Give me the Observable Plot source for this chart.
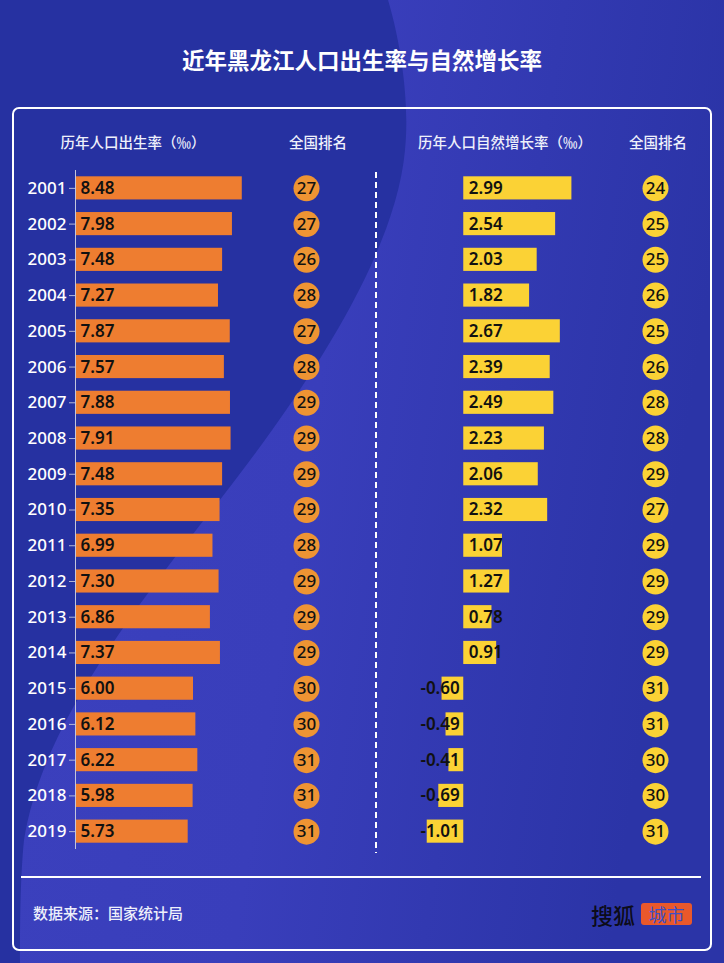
<!DOCTYPE html>
<html>
<head>
<meta charset="utf-8">
<script src="https://cdn.jsdelivr.net/npm/d3@7"></script>
<script src="https://cdn.jsdelivr.net/npm/@observablehq/plot@0.6"></script>
<style>
  html, body { margin: 0; padding: 0; }
  body { width: 724px; height: 963px; position: relative; overflow: hidden; font-family: "Noto Sans CJK SC", "Noto Sans", sans-serif; }
  .abs { position: absolute; }
  #bg { left: 0; top: 0; }
  #title { left: 0; width: 724px; top: 43px; text-align: center; color: #fff; font-size: 22.5px; font-weight: 700; line-height: 32px; }
  #panel { left: 12px; top: 107px; width: 696px; height: 840px; border: 2px solid #fff; border-radius: 7px; }
  #sep { left: 21px; top: 876px; width: 680px; height: 2px; background: #fff; }
  .hdr { color: #eef0fb; font-size: 14.5px; font-weight: 500; line-height: 20px; text-align: center; top: 132px; white-space: nowrap; }
  #src { left: 33px; top: 902px; color: #eef0fb; font-size: 15px; font-weight: 500; line-height: 22px; }
  #logo1 { left: 591px; top: 899px; color: #0c0c1a; font-size: 22px; font-weight: 500; line-height: 30px; }
  #logo2 { left: 641px; top: 903px; width: 51px; height: 22px; background: #e9582b; border-radius: 3px; color: #3f4fc4; font-size: 18px; font-weight: 400; line-height: 22px; text-align: center; }
  .plot { position: absolute; }
  .plot svg { overflow: visible; background: transparent; }
</style>
</head>
<body>
<svg id="bg" class="abs" width="724" height="963">
  <defs>
    <linearGradient id="lg" x1="0" y1="0" x2="1" y2="0.2">
      <stop offset="0" stop-color="#3c41be"/>
      <stop offset="0.5" stop-color="#393ebb"/>
      <stop offset="1" stop-color="#2b34a7"/>
    </linearGradient>
  </defs>
  <rect width="724" height="963" fill="url(#lg)"/>
  <path d="M0,0 L388,0 C400,40 410,100 405,150 C395,260 300,400 200,525 C110,640 40,740 24,840 C20,880 20,930 20,963 L0,963 Z" fill="#2631a1"/>
  <line x1="376" y1="172" x2="376" y2="853" stroke="#fff" stroke-width="2" stroke-dasharray="6,4"/>
</svg>
<div id="title" class="abs">近年黑龙江人口出生率与自然增长率</div>
<div id="panel" class="abs"></div>
<div id="sep" class="abs"></div>
<div class="hdr abs" style="left:30px;width:206px;">历年人口出生率（‰）</div>
<div class="hdr abs" style="left:268px;width:100px;">全国排名</div>
<div class="hdr abs" style="left:395px;width:220px;">历年人口自然增长率（‰）</div>
<div class="hdr abs" style="left:608px;width:100px;">全国排名</div>
<div id="src" class="abs">数据来源：国家统计局</div>
<div id="logo1" class="abs">搜狐</div>
<div id="logo2" class="abs">城市</div>

<div id="p1" class="plot" style="left:0px;top:170px;"></div>
<div id="p2" class="plot" style="left:286px;top:170px;"></div>
<div id="p3" class="plot" style="left:409px;top:170px;"></div>
<div id="p4" class="plot" style="left:635px;top:170px;"></div>

<script>
const years = ["2001","2002","2003","2004","2005","2006","2007","2008","2009","2010","2011","2012","2013","2014","2015","2016","2017","2018","2019"];
const birthRate = [8.48,7.98,7.48,7.27,7.87,7.57,7.88,7.91,7.48,7.35,6.99,7.30,6.86,7.37,6.00,6.12,6.22,5.98,5.73];
const birthRank = [27,27,26,28,27,28,29,29,29,29,28,29,29,29,30,30,31,31,31];
const growthRate = [2.99,2.54,2.03,1.82,2.67,2.39,2.49,2.23,2.06,2.32,1.07,1.27,0.78,0.91,-0.60,-0.49,-0.41,-0.69,-1.01];
const growthRank = [24,25,25,26,25,26,28,28,29,27,29,29,29,29,31,31,30,30,31];

const rows = years.map((y, i) => ({
  year: y, birth: birthRate[i], bRank: birthRank[i], growth: growthRate[i], gRank: growthRank[i]
}));

const H = 679;
const font = '"Noto Sans", "Noto Sans CJK SC", sans-serif';
const yScale = {type: "band", domain: years, padding: 0, round: false, axis: null};
const inset = 6.3;
const fmt = d => d.toFixed(2);

// Left: birth rate bars
const p1 = Plot.plot({
  width: 260, height: H, marginLeft: 75, marginRight: 8, marginTop: 0, marginBottom: 0,
  style: {fontFamily: font, background: "transparent", overflow: "visible"},
  x: {domain: [0, 9], axis: null},
  y: yScale,
  marks: [
    Plot.barX(rows, {x: "birth", y: "year", fill: "#ee7d30", insetTop: inset, insetBottom: inset}),
    Plot.ruleX([0], {stroke: "#c4c6dc", strokeWidth: 1}),
    Plot.axisY({tickSize: 6, tickPadding: 3, fontSize: 17, fontWeight: 500, fill: "#ffffff", stroke: "#b4b8d6", label: null}),
    Plot.text(rows, {x: 0, y: "year", text: d => fmt(d.birth), dx: 5, textAnchor: "start", fill: "#111", fontSize: 17, fontWeight: 600})
  ]
});
document.getElementById("p1").appendChild(p1);

// Left rank circles
const p2 = Plot.plot({
  width: 40, height: H, margin: 0,
  style: {fontFamily: font, background: "transparent", overflow: "visible"},
  y: yScale,
  marks: [
    Plot.dot(rows, {y: "year", r: 13, fill: "#ee9433", frameAnchor: "middle"}),
    Plot.text(rows, {y: "year", text: "bRank", frameAnchor: "middle", fill: "#111", fontSize: 17, fontWeight: 500})
  ]
});
document.getElementById("p2").appendChild(p2);

// Right: natural growth bars
const p3 = Plot.plot({
  width: 170, height: H, margin: 0,
  style: {fontFamily: font, background: "transparent", overflow: "visible"},
  x: {domain: [-1.5, 3.2], axis: null},
  y: yScale,
  marks: [
    Plot.barX(rows, {x: "growth", y: "year", fill: "#fbd235", insetTop: inset, insetBottom: inset}),
    Plot.text(rows.filter(d => d.growth >= 0), {x: 0, y: "year", text: d => fmt(d.growth), dx: 5, textAnchor: "start", fill: "#111", fontSize: 17, fontWeight: 600}),
    Plot.text(rows.filter(d => d.growth < 0), {x: 0, y: "year", text: d => fmt(d.growth), dx: -4, textAnchor: "end", fill: "#111", fontSize: 17, fontWeight: 600})
  ]
});
document.getElementById("p3").appendChild(p3);

// Right rank circles
const p4 = Plot.plot({
  width: 40, height: H, margin: 0,
  style: {fontFamily: font, background: "transparent", overflow: "visible"},
  y: yScale,
  marks: [
    Plot.dot(rows, {y: "year", r: 13, fill: "#fbd235", frameAnchor: "middle"}),
    Plot.text(rows, {y: "year", text: "gRank", frameAnchor: "middle", fill: "#111", fontSize: 17, fontWeight: 500})
  ]
});
document.getElementById("p4").appendChild(p4);
</script>
</body>
</html>
